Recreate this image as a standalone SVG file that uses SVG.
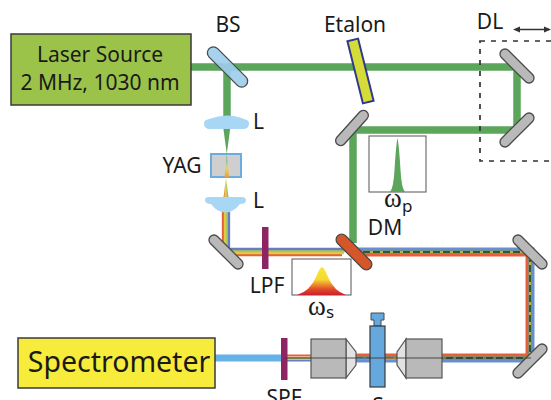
<svg xmlns="http://www.w3.org/2000/svg" width="551" height="400" viewBox="0 0 551 400">
<defs>
<linearGradient id="gs" x1="0" y1="0" x2="0" y2="1"><stop offset="0" stop-color="#f7e83a"/><stop offset="0.45" stop-color="#f5d82f"/><stop offset="0.8" stop-color="#e3482a"/><stop offset="1" stop-color="#c8202c"/></linearGradient>
<linearGradient id="yagb" x1="0" y1="0" x2="0" y2="1"><stop offset="0" stop-color="#5aa85a"/><stop offset="0.45" stop-color="#b8c8a8"/><stop offset="0.6" stop-color="#e8d850"/><stop offset="1" stop-color="#e8a040"/></linearGradient>
<linearGradient id="rb" x1="0" y1="0" x2="1" y2="0"><stop offset="0.1" stop-color="#e5603a"/><stop offset="0.45" stop-color="#e8d040"/><stop offset="0.65" stop-color="#a8c860"/><stop offset="0.95" stop-color="#6a7dc0"/></linearGradient>
</defs>
<style>
text{font-family:"Noto Sans","Liberation Sans",sans-serif;fill:#1a1a1a}
.lbl{font-size:21px}
.om{font-family:"Liberation Serif",serif;font-size:27px}
.sub{font-family:"Noto Sans",sans-serif;font-size:17px}
.mir{fill:#b9b9b9;stroke:#4a4a4a;stroke-width:1.3}
.g{stroke:#5ba65b;fill:none;stroke-width:7.500}
.box{fill:#fff;stroke:#555;stroke-width:1}
.obj{fill:#b9b9b9;stroke:#555;stroke-width:1.2}
.tip{fill:#e2e2e2;stroke:#555;stroke-width:1.2}
.lens{fill:#a8d6f5}
</style>
<g id="connectors">
<path class="g" d="M190 67H517V130H353V243"/>
<path d="M227 67V122" stroke="#5ba65b" stroke-width="7.500" fill="none"/>
<path d="M223 126H230.500L226.800 154Z" fill="#5ba65b"/>
<path d="M222.500 205L226 178L229.500 205Z" fill="url(#rb)"/>
<path d="M226 205V252H345" fill="none" stroke="#e5603a" stroke-width="2.300" transform="translate(-3 3)"/>
<path d="M226 205V252H345" fill="none" stroke="#e8c83c" stroke-width="2.300" transform="translate(-1 1)"/>
<path d="M226 205V252H345" fill="none" stroke="#a8c860" stroke-width="2.300" transform="translate(1 -1)"/>
<path d="M226 205V252H345" fill="none" stroke="#6a7dc0" stroke-width="2.300" transform="translate(3 -3)"/>
<path d="M350 249H533V361" fill="none" stroke="#6a8fd0" stroke-width="3"/>
<path d="M311 361H533" fill="none" stroke="#6a8fd0" stroke-width="3"/>
<path d="M350 255H527V355H311" fill="none" stroke="#e5603a" stroke-width="3"/>
<path d="M350 252H530V358H311" fill="none" stroke="#2f5a3a" stroke-width="3"/>
<path d="M350 252H530V358H311" fill="none" stroke="#f0d040" stroke-width="1.500" stroke-dasharray="3 7"/>
<path d="M215 358H281" stroke="#64b2e6" stroke-width="7" fill="none"/>
<path d="M286 355.500H311" stroke="#e5603a" stroke-width="2"/>
<path d="M286 358H311" stroke="#a8b848" stroke-width="2"/>
<path d="M286 360.500H311" stroke="#6a7dc0" stroke-width="2"/>
<path d="M356 358.500H369" stroke="#64b2e6" stroke-width="2"/>
<path d="M386 358.500H397" stroke="#e8b83c" stroke-width="2"/>
</g>
<g id="laser"><rect x="11" y="34" width="180" height="71" fill="#9bc34a" stroke="#3a3a3a" stroke-width="1.500"/><text x="100" y="62" text-anchor="middle" class="lbl">Laser Source</text><text x="100" y="90" text-anchor="middle" class="lbl">2 MHz, 1030 nm</text></g>
<g id="bs"><rect x="201.500" y="61" width="52" height="12" rx="6" transform="rotate(45 227.500 67)" fill="#9ccdec" fill-opacity="0.900" stroke="#4a4a4a" stroke-width="1.300"/><text x="228" y="32" text-anchor="middle" class="lbl">BS</text></g>
<g id="etalon"><rect x="355" y="39" width="11" height="64" transform="rotate(-14 360.500 71)" fill="#d5dc38" stroke="#2f3a8c" stroke-width="2"/><text x="355" y="32" text-anchor="middle" class="lbl">Etalon</text></g>
<g id="dl"><rect x="480" y="41" width="90" height="120" fill="none" stroke="#333" stroke-width="1.700" stroke-dasharray="5 6"/><text x="490" y="29" text-anchor="middle" class="lbl">DL</text><path d="M517 29.500H549" stroke="#333" stroke-width="1.500" fill="none"/><path d="M513 29.500L520 26.500V32.500ZM551 29.500L544 26.500V32.500Z" fill="#333"/></g>
<g id="m1"><rect class="mir" x="495" y="61" width="44" height="10" rx="5" transform="rotate(45 517 66)"/></g>
<g id="m2"><rect class="mir" x="495" y="125" width="44" height="10" rx="5" transform="rotate(-45 517 130)"/></g>
<g id="m3"><rect class="mir" x="330" y="123" width="44" height="10" rx="5" transform="rotate(-48 352 128)"/></g>
<g id="lens1"><path class="lens" d="M204 123Q204 120 209 119Q218 115.500 227 115.500Q236 115.500 244 119Q249 120 249 123Q249 129 243 129H210Q204 129 204 123Z"/><text x="253" y="129" class="lbl">L</text></g>
<g id="yag"><rect x="211" y="154" width="30" height="23" fill="#cfcfcf" stroke="#69ade2" stroke-width="2"/><path d="M226.800 154L229 177H224.500Z" fill="url(#yagb)"/><text x="182" y="173" text-anchor="middle" class="lbl">YAG</text></g>
<g id="lens2"><path class="lens" d="M205 200Q205 197 209 197H241Q246 197 246 200Q246 204 240 204Q233 212.500 226 212.500Q217 212.500 211 204Q205 204 205 200Z"/><text x="253" y="208" class="lbl">L</text></g>
<g id="m4"><rect class="mir" x="204" y="247" width="44" height="10" rx="5" transform="rotate(45 226 252)"/></g>
<g id="lpf"><rect x="262" y="227" width="6.500" height="42" fill="#8f2464"/><text x="267" y="293" text-anchor="middle" class="lbl">LPF</text></g>
<g id="wp"><rect class="box" x="369" y="136" width="57" height="56"/><path d="M390 192Q393.500 188 394.500 170Q396 145 397.500 138Q399 145 400.500 170Q401.500 188 405 192Z" fill="#5ba65b"/><text x="384" y="207" class="om">ω</text><text x="402" y="212" class="sub">p</text></g>
<g id="dm"><rect x="331" y="246.500" width="46" height="11" rx="5.500" transform="rotate(45 354 252)" fill="#d4572c" stroke="#4a4a4a" stroke-width="1.300"/><text x="385" y="235" text-anchor="middle" class="lbl">DM</text></g>
<g id="ws"><rect class="box" x="292" y="259" width="59" height="36"/><path d="M297 295Q310 291 316 277Q320 267 322 267Q324 267 328 277Q334 291 346 295Z" fill="url(#gs)"/><text x="308" y="315" class="om">ω</text><text x="326" y="318" class="sub">s</text></g>
<g id="m5"><rect class="mir" x="508" y="247" width="44" height="10" rx="5" transform="rotate(45 530 252)"/></g>
<g id="m6"><rect class="mir" x="508" y="356" width="44" height="10" rx="5" transform="rotate(-45 530 361)"/></g>
<g id="spec"><rect x="18" y="338" width="197" height="50" fill="#f7ec3b" stroke="#3a3a3a" stroke-width="1.500"/><text x="119" y="372" text-anchor="middle" font-size="28.500">Spectrometer</text></g>
<g id="spf"><rect x="281" y="338" width="6.500" height="42" fill="#8f2464"/><text x="284" y="405" text-anchor="middle" class="lbl">SPF</text></g>
<g id="obj1"><path class="tip" d="M346 339L356 352V365L346 378Z"/><rect class="obj" x="311" y="339" width="35" height="39"/></g>
<g id="obj2"><path class="tip" d="M406 339L397 352V365L406 378Z"/><rect class="obj" x="406" y="339" width="36" height="39"/></g>
<g id="sample"><path d="M371 313H384V320H381V326H374V320H371Z" fill="#64a8de" stroke="#4a4a4a" stroke-width="1"/><rect x="370" y="326" width="15" height="61" fill="#64a8de" stroke="#3a3a3a" stroke-width="1.200"/><text x="378" y="413" text-anchor="middle" class="lbl">S</text></g>
<path d="M285 358H531" stroke="#3a3a3a" stroke-width="0.900" fill="none"/>
</svg>
